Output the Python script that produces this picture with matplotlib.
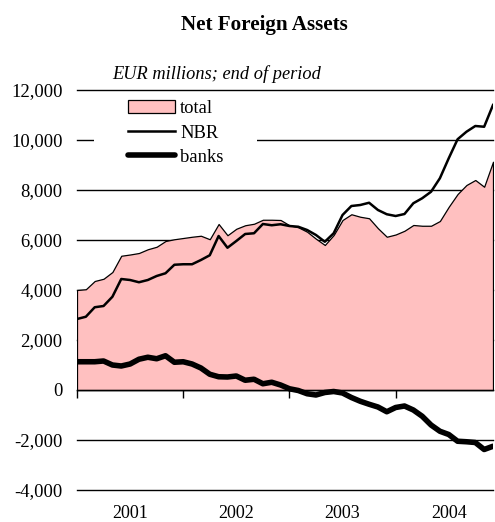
import matplotlib
matplotlib.use("Agg")
import matplotlib.pyplot as plt
from matplotlib.patches import Rectangle
from matplotlib.lines import Line2D
import numpy as np

plt.rcParams['font.family'] = ['Liberation Serif', 'DejaVu Serif']

years = ["2001", "2002", "2003", "2004"]

total = [4000, 4030, 4360, 4450, 4720, 5370, 5420, 5480, 5630, 5730, 5960, 6030,
         6080, 6130, 6170, 6030, 6640, 6190, 6450, 6590, 6650, 6810, 6810, 6800,
         6590, 6510, 6330, 6050, 5800, 6200, 6800, 7030, 6930, 6870, 6470, 6130,
         6220, 6370, 6600, 6570, 6570, 6760, 7330, 7840, 8200, 8400, 8130, 9130]

nbr = [2840, 2930, 3310, 3360, 3730, 4440, 4400, 4310, 4400, 4560, 4670, 5010,
       5030, 5030, 5200, 5390, 6160, 5690, 5960, 6240, 6270, 6640, 6590, 6630,
       6560, 6530, 6400, 6200, 5930, 6270, 7000, 7360, 7400, 7490, 7200, 7030,
       6960, 7040, 7470, 7670, 7930, 8470, 9270, 10030, 10330, 10560, 10530, 11400]

banks = [1130, 1130, 1130, 1160, 1000, 960, 1040, 1230, 1310, 1250, 1370, 1110,
         1130, 1040, 880, 630, 530, 520, 560, 390, 430, 250, 310, 200,
         50, -20, -150, -200, -100, -60, -120, -300, -450, -570, -680, -870,
         -700, -640, -800, -1050, -1400, -1650, -1780, -2050, -2070, -2100, -2380, -2250]

x = np.arange(len(total))

fig = plt.figure(figsize=(4.95, 5.22), dpi=100)
ax = fig.add_axes([77/495, 1 - 490/522, 416/495, 400/522])

FS = 13.4
pink = '#FFC0C0'

ax.set_xlim(0, len(total) - 1)
ax.set_ylim(-4000, 12000)
ax.set_yticks(np.arange(-4000, 12001, 2000))
ax.set_yticklabels([f"{v:,}" for v in range(-4000, 12001, 2000)], fontsize=FS)
ax.tick_params(axis='y', length=0, pad=10.5)
ax.grid(axis='y', color='black', linewidth=1.0)
ax.set_axisbelow(True)
for gl in ax.get_ygridlines():
    gl.set_clip_on(False)

for s in ['left', 'right', 'top']:
    ax.spines[s].set_visible(False)
ax.spines['bottom'].set_position(('data', 0))
ax.spines['bottom'].set_linewidth(1.0)
ax.spines['bottom'].set_zorder(5)
ax.set_xticks([0, 12, 24, 36])
ax.tick_params(axis='x', length=6, width=1.0, direction='out', labelbottom=False)

sec = ax.secondary_xaxis(0)
sec.set_xticks([6, 18, 30, 42])
sec.set_xticklabels(years, fontsize=13.0)
sec.tick_params(length=0, pad=10.5)
sec.spines['bottom'].set_visible(False)

ax.fill_between(x, 0, total, facecolor=pink, edgecolor='black', linewidth=0.9, zorder=2)
ax.plot(x, nbr, color='black', linewidth=1.8, zorder=3, solid_joinstyle='round')
ax.plot(x, banks, color='black', linewidth=4.0, zorder=4, solid_joinstyle='round',
        solid_capstyle='round')

# white background box behind legend
ax.add_patch(Rectangle(((94-77)/416, (490-180)/400), (257-94)/416, (180-93)/400,
                       transform=ax.transAxes, facecolor='white', edgecolor='none',
                       zorder=6))

handles = [Rectangle((0, 0), 1, 1, facecolor=pink, edgecolor='black', linewidth=0.9),
           Line2D([], [], color='black', linewidth=1.8),
           Line2D([], [], color='black', linewidth=4.0, solid_capstyle='round')]
leg = ax.legend(handles, ['total', 'NBR', 'banks'], loc='upper left',
                bbox_to_anchor=((128-77)/416, (490-100)/400), frameon=False,
                fontsize=FS, handlelength=2.5, handletextpad=0.3,
                labelspacing=0.4, borderpad=0, borderaxespad=0)
leg.set_zorder(7)

fig.text(264/495, 1 - 25/522, "Net Foreign Assets", ha='center', va='center',
         fontsize=15.2, fontweight='bold')
fig.text(112/495, 1 - 74/522, "EUR millions; end of period", ha='left', va='center',
         fontsize=13.2, style='italic')

fig.savefig("out.png", dpi=100)
